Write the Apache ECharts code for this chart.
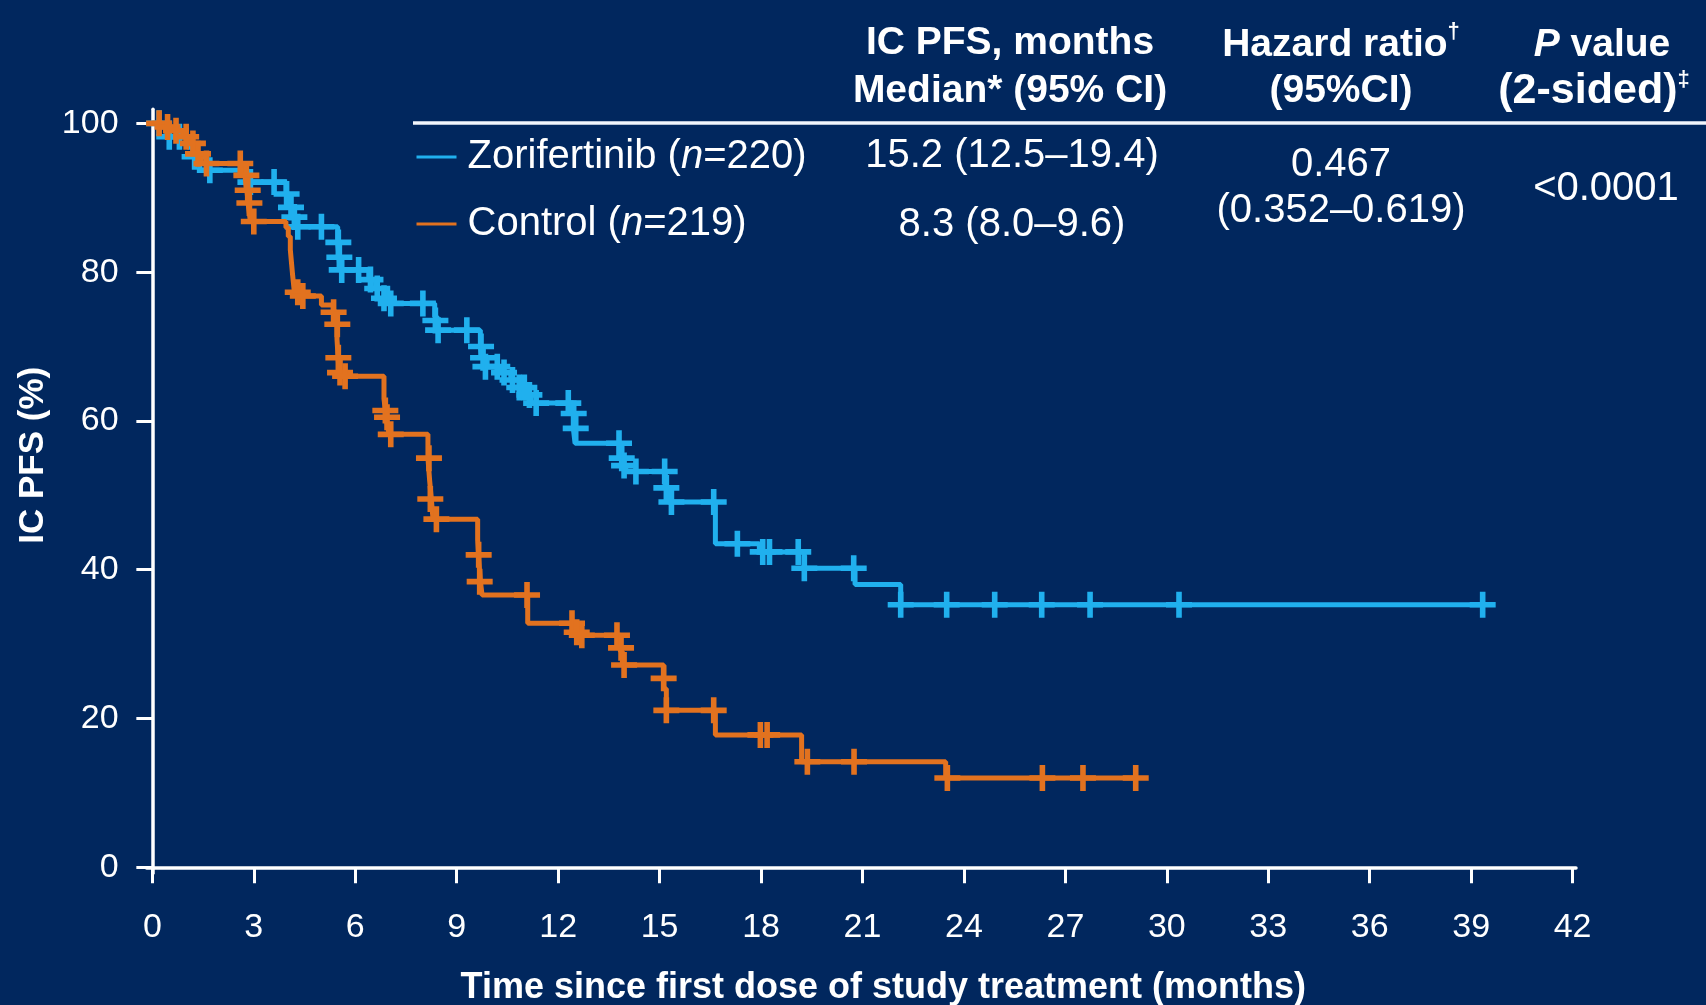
<!DOCTYPE html>
<html>
<head>
<meta charset="utf-8">
<script src="https://cdn.jsdelivr.net/npm/echarts@6/dist/echarts.min.js"></script>
<style>
html,body{margin:0;padding:0;background:#01275E;}
#chart{width:1706px;height:1005px;}
</style>
</head>
<body>
<div id="chart"></div>
<script>
// ---- data ----
const xTicks = [0, 3, 6, 9, 12, 15, 18, 21, 24, 27, 30, 33, 36, 39, 42];
const yTicks = [0, 20, 40, 60, 80, 100];

const zoriTime = [0, 0.3, 0.43, 1.05, 1.2, 1.4, 2.8, 3.95, 4.05, 4.15, 4.27, 5.48, 5.52, 5.55, 6.4, 6.6, 6.9, 7.03, 8.35, 8.42, 9.7, 9.75, 9.9, 10.3, 10.6, 10.9, 11.1, 11.2, 12.45, 12.5, 13.86, 13.9, 14.0, 15.17, 15.25, 16.65, 17.95, 19.28, 20.78, 22.13, 39.34];
const zoriPFS  = [100, 99.5, 98.2, 96.8, 95.5, 93.7, 92.1, 90.5, 88.7, 87.4, 86.1, 84, 82, 80.3, 79, 77.8, 76.5, 75.8, 74, 72.2, 70, 68.5, 67.3, 66.5, 65.5, 64.5, 63.5, 62.4, 59, 57, 55, 54, 53.2, 51, 49.1, 43.5, 42.4, 40.2, 38.0, 35.3, 35.3];

const zoriCensorTime = [0.2, 0.5, 0.8, 1.25, 1.7, 2.9, 3.6, 3.97, 4.1, 4.2, 4.3, 5.0, 5.5, 5.53, 5.6, 6.1, 6.45, 6.65, 6.85, 7.05, 8.0, 8.37, 8.45, 9.3, 9.72, 9.78, 9.85, 10.2, 10.4, 10.65, 10.85, 11.0, 11.15, 11.35, 12.3, 12.46, 12.52, 13.8, 13.88, 13.95, 14.3, 15.15, 15.2, 15.35, 16.6, 17.3, 18.05, 18.25, 19.1, 19.28, 20.74, 22.13, 23.49, 24.91, 26.3, 27.73, 30.36, 39.34];
const zoriCensorPFS  = [100, 98.2, 98.2, 95.5, 93.7, 92.1, 92.1, 90.5, 88.7, 87.4, 86.1, 86.1, 84, 82, 80.3, 80.3, 79, 77.8, 76.5, 75.8, 75.8, 73.5, 72.2, 72.2, 70, 68.5, 67.3, 67.3, 66.5, 65.5, 64.5, 64.5, 63.5, 62.4, 62.4, 61, 59, 57, 55, 54, 53.2, 53.2, 51, 49.1, 49.1, 43.5, 42.4, 42.4, 42.4, 40.2, 40.2, 35.3, 35.3, 35.3, 35.3, 35.3, 35.3, 35.3];

const ctrlTime = [0, 0.3, 0.6, 0.9, 1.1, 1.3, 1.45, 2.75, 2.8, 2.85, 2.9, 3.95, 4.02, 4.08, 4.12, 4.15, 4.2, 4.5, 5.0, 5.35, 5.46, 5.5, 5.55, 6.85, 6.9, 6.95, 7.0, 8.15, 8.2, 8.25, 8.3, 9.62, 9.65, 9.7, 9.75, 11.1, 12.45, 12.6, 13.84, 13.9, 15.12, 15.2, 16.65, 19.2, 23.46, 29.08];
const ctrlPFS  = [100, 99.5, 99.0, 98.2, 97.3, 95.9, 94.6, 92.5, 90.8, 88.5, 86.8, 86.0, 84.8, 83.0, 81.0, 79.5, 77.3, 76.8, 75.6, 74.6, 71, 68, 66, 63, 61, 59.5, 58.2, 55, 52, 49.5, 46.8, 44, 41.5, 38.5, 36.6, 32.8, 32, 31.2, 29, 27.2, 24, 21.1, 17.8, 14.2, 12.0, 12.0];

const ctrlCensorTime = [0.2, 0.45, 0.7, 1.0, 1.2, 1.35, 1.6, 2.6, 2.78, 2.82, 2.87, 3.0, 4.3, 4.45, 5.36, 5.47, 5.5, 5.55, 5.7, 6.89, 6.94, 7.05, 8.18, 8.22, 8.4, 9.65, 9.68, 11.08, 12.41, 12.55, 12.7, 13.74, 13.86, 13.95, 15.12, 15.2, 16.6, 17.98, 18.18, 19.37, 20.75, 23.51, 26.32, 27.52, 29.08];
const ctrlCensorPFS  = [100, 99.5, 99.0, 98.2, 97.3, 95.9, 94.6, 94.6, 93, 91, 89.3, 86.8, 77.3, 76.8, 74.6, 73, 68.5, 66.5, 66, 61.4, 60.5, 58.2, 55, 49.5, 46.8, 42, 38.4, 36.6, 32.8, 31.6, 31.2, 31.2, 29.5, 27.2, 25.4, 21.1, 21.1, 17.8, 17.8, 14.2, 14.2, 12.0, 12.0, 12.0, 12.0];

const seriesNames = ['Zorifertinib', 'Control'];
const seriesN = { 'Zorifertinib': 220, 'Control': 219 };
const medianText = ['15.2 (12.5\u201319.4)', '8.3 (8.0\u20139.6)'];
const hrText = ['0.467', '(0.352\u20130.619)'];
const pText = '<0.0001';

// ---- styles ----
const BLUE = '#20B0EE';
const ORANGE = '#E2721F';
const WHITE = '#FFFFFF';
const FONT = '"Liberation Sans", Arial, sans-serif';
const PLUS = 'path://M-2.8,-13H2.8V-2.8H13V2.8H2.8V13H-2.8V2.8H-13V-2.8H-2.8Z';

const pair = (a, b) => a.map((t, i) => [t, b[i]]);

const chart = echarts.init(document.getElementById('chart'), null, { renderer: 'canvas' });

const headerFont = 'bold 39px ' + FONT;
const bodyFont = '40px ' + FONT;

function txt(x, y, text, font, rich) {
  const el = {
    type: 'text', x: x, y: y,
    style: { text: text, fill: WHITE, font: font, textAlign: 'center', textVerticalAlign: 'middle' }
  };
  if (rich) el.style.rich = rich;
  return el;
}
const supRich = {
  b: { fontSize: 39, fontWeight: 'bold', fontFamily: FONT, fill: WHITE, lineHeight: 44, verticalAlign: 'bottom' },
  bw: { fontSize: 43, fontWeight: 'bold', fontFamily: FONT, fill: WHITE, lineHeight: 44, verticalAlign: 'bottom' },
  bi: { fontSize: 39, fontWeight: 'bold', fontStyle: 'italic', fontFamily: FONT, fill: WHITE, lineHeight: 44, verticalAlign: 'bottom' },
  s: { fontSize: 22, fontWeight: 'bold', fontFamily: FONT, fill: WHITE, lineHeight: 44, verticalAlign: 'top' }
};

const option = {
  backgroundColor: '#01275E',
  animation: false,
  grid: { left: 146.6, right: 130, top: 109.2, bottom: 131.7, containLabel: false, outerBoundsMode: 'none' },
  xAxis: {
    type: 'value', min: -0.17, max: 42.1,
    axisLine: { show: true, lineStyle: { color: WHITE, width: 3.5 } },
    axisTick: { show: true, length: 16, lineStyle: { color: WHITE, width: 3 }, customValues: xTicks },
    axisLabel: { customValues: xTicks, color: WHITE, fontSize: 34, fontFamily: FONT, margin: 37 },
    splitLine: { show: false },
    name: 'Time since first dose of study treatment (months)',
    nameLocation: 'middle', nameGap: 97,
    nameTextStyle: { color: WHITE, fontSize: 36, fontWeight: 'bold', fontFamily: FONT, padding: [0, 0, 0, 44] }
  },
  yAxis: {
    type: 'value', min: -0.8, max: 101.9,
    axisLine: { show: true, lineStyle: { color: WHITE, width: 3.5 } },
    axisTick: { show: true, length: 16, lineStyle: { color: WHITE, width: 3 }, customValues: yTicks },
    axisLabel: { customValues: yTicks, color: WHITE, fontSize: 34, fontFamily: FONT, margin: 28 },
    splitLine: { show: false },
    name: 'IC PFS (%)',
    nameLocation: 'middle', nameGap: 93,
    nameTextStyle: { color: WHITE, fontSize: 35, fontWeight: 'bold', fontFamily: FONT, padding: [0, 0, 0, 72] }
  },
  legend: {
    orient: 'vertical', left: 411.5, top: 132,
    itemWidth: 40, itemHeight: 3, itemGap: 27,
    selectedMode: false,
    data: [{ name: 'Zorifertinib', icon: 'rect' }, { name: 'Control', icon: 'rect' }],
    formatter: function (name) { return name + ' ({i|n}=' + seriesN[name] + ')'; },
    textStyle: {
      color: WHITE, fontSize: 40, fontFamily: FONT, lineHeight: 40, padding: [0, 0, 0, 6],
      rich: { i: { color: WHITE, fontSize: 40, fontFamily: FONT, fontStyle: 'italic', lineHeight: 40 } }
    }
  },
  graphic: [
    { type: 'line', shape: { x1: 413, y1: 123, x2: 1706, y2: 123 }, style: { stroke: '#F2F6FC', lineWidth: 3.5 } },
    txt(1010, 43, 'IC PFS, months', headerFont),
    txt(1010, 91, 'Median* (95% CI)', headerFont),
    txt(1341, 43, '{b|Hazard ratio}{s|\u2020}', headerFont, supRich),
    txt(1341, 91, '(95%CI)', headerFont),
    txt(1602, 43, '{bi|P}{b| value}', headerFont, supRich),
    txt(1594, 91, '{bw|(2-sided)}{s|\u2021}', headerFont, supRich),
    txt(1012, 156, medianText[0], bodyFont),
    txt(1012, 225, medianText[1], bodyFont),
    txt(1341, 165, hrText[0], bodyFont),
    txt(1341, 211, hrText[1], bodyFont),
    txt(1606, 189, pText, bodyFont)
  ],
  series: [
    {
      name: seriesNames[0], type: 'line', step: 'end', showSymbol: false, z: 2,
      data: pair(zoriTime, zoriPFS),
      lineStyle: { color: BLUE, width: 5 }, itemStyle: { color: BLUE }
    },
    {
      name: seriesNames[0], type: 'scatter', symbol: PLUS, symbolSize: 26, z: 3,
      data: pair(zoriCensorTime, zoriCensorPFS),
      itemStyle: { color: BLUE, opacity: 1 }
    },
    {
      name: seriesNames[1], type: 'line', step: 'end', showSymbol: false, z: 4,
      data: pair(ctrlTime, ctrlPFS),
      lineStyle: { color: ORANGE, width: 5 }, itemStyle: { color: ORANGE }
    },
    {
      name: seriesNames[1], type: 'scatter', symbol: PLUS, symbolSize: 26, z: 5,
      data: pair(ctrlCensorTime, ctrlCensorPFS),
      itemStyle: { color: ORANGE, opacity: 1 }
    }
  ]
};
chart.setOption(option);
</script>
</body>
</html>
